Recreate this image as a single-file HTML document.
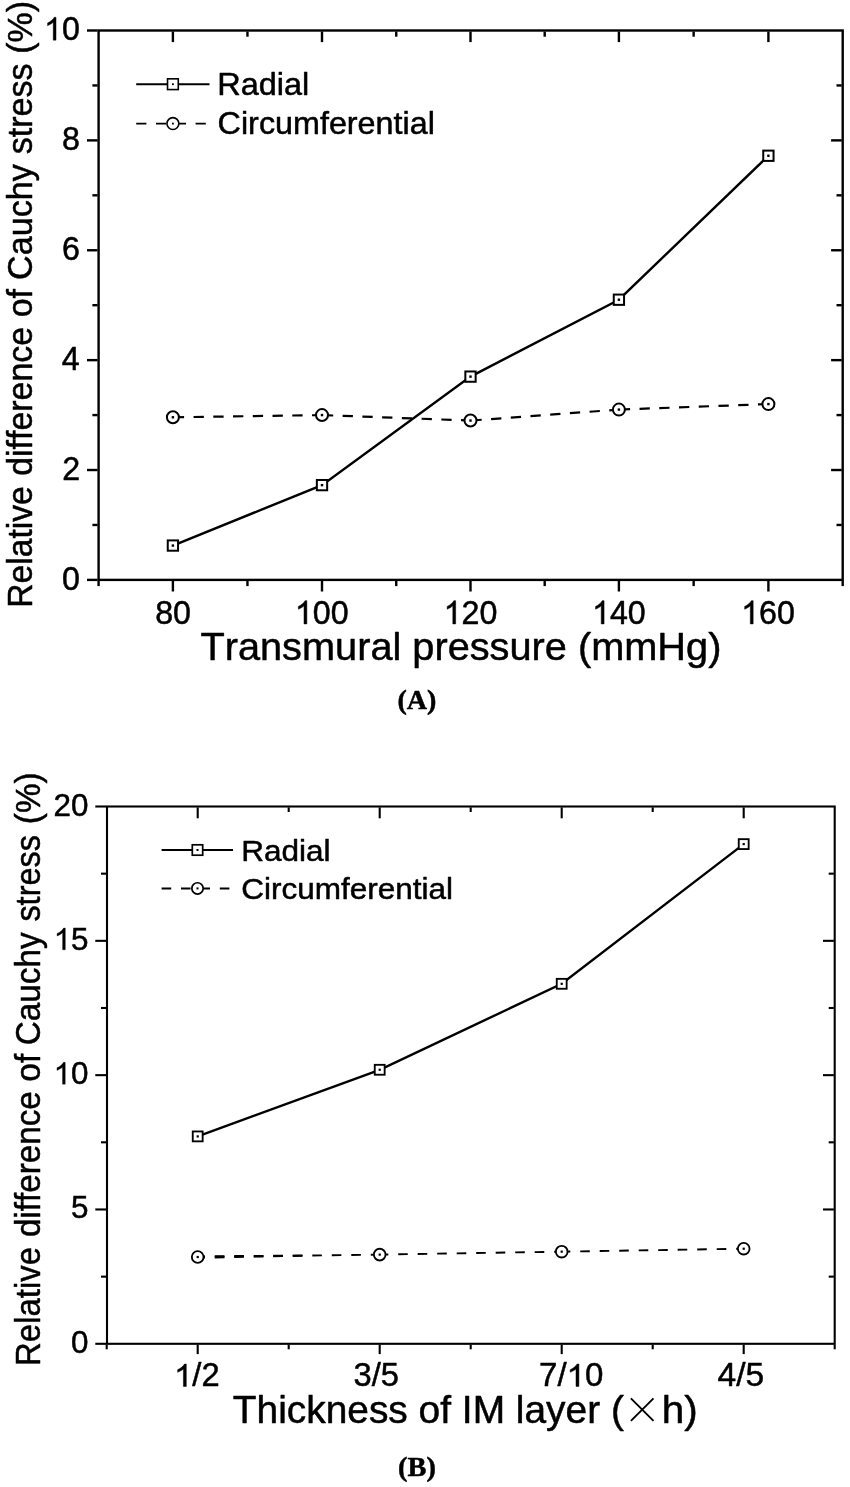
<!DOCTYPE html>
<html><head><meta charset="utf-8"><title>Figure</title>
<style>html,body{margin:0;padding:0;background:#fff}svg{display:block;will-change:transform;filter:blur(0.3px)}text{font-kerning:none;fill:#000;stroke:#000;stroke-width:0.5px;stroke-linejoin:round}</style></head><body>
<svg width="850" height="1487" viewBox="0 0 850 1487">
<rect width="850" height="1487" fill="#fff"/>
<rect x="98.60" y="30.50" width="744.10" height="549.40" fill="none" stroke="#000" stroke-width="2.4"/>
<line x1="98.60" y1="580.90" x2="98.60" y2="586.10" stroke="#000" stroke-width="2.4"/>
<line x1="172.90" y1="580.90" x2="172.90" y2="591.50" stroke="#000" stroke-width="2.4"/>
<line x1="172.90" y1="31.50" x2="172.90" y2="42.10" stroke="#000" stroke-width="2.4"/>
<line x1="247.45" y1="580.90" x2="247.45" y2="586.10" stroke="#000" stroke-width="2.4"/>
<line x1="247.45" y1="31.50" x2="247.45" y2="36.70" stroke="#000" stroke-width="2.4"/>
<line x1="322.00" y1="580.90" x2="322.00" y2="591.50" stroke="#000" stroke-width="2.4"/>
<line x1="322.00" y1="31.50" x2="322.00" y2="42.10" stroke="#000" stroke-width="2.4"/>
<line x1="396.25" y1="580.90" x2="396.25" y2="586.10" stroke="#000" stroke-width="2.4"/>
<line x1="396.25" y1="31.50" x2="396.25" y2="36.70" stroke="#000" stroke-width="2.4"/>
<line x1="470.50" y1="580.90" x2="470.50" y2="591.50" stroke="#000" stroke-width="2.4"/>
<line x1="470.50" y1="31.50" x2="470.50" y2="42.10" stroke="#000" stroke-width="2.4"/>
<line x1="544.70" y1="580.90" x2="544.70" y2="586.10" stroke="#000" stroke-width="2.4"/>
<line x1="544.70" y1="31.50" x2="544.70" y2="36.70" stroke="#000" stroke-width="2.4"/>
<line x1="618.90" y1="580.90" x2="618.90" y2="591.50" stroke="#000" stroke-width="2.4"/>
<line x1="618.90" y1="31.50" x2="618.90" y2="42.10" stroke="#000" stroke-width="2.4"/>
<line x1="693.65" y1="580.90" x2="693.65" y2="586.10" stroke="#000" stroke-width="2.4"/>
<line x1="693.65" y1="31.50" x2="693.65" y2="36.70" stroke="#000" stroke-width="2.4"/>
<line x1="768.40" y1="580.90" x2="768.40" y2="591.50" stroke="#000" stroke-width="2.4"/>
<line x1="768.40" y1="31.50" x2="768.40" y2="42.10" stroke="#000" stroke-width="2.4"/>
<line x1="842.70" y1="580.90" x2="842.70" y2="586.10" stroke="#000" stroke-width="2.4"/>
<line x1="97.60" y1="579.90" x2="87.00" y2="579.90" stroke="#000" stroke-width="2.4"/>
<line x1="97.60" y1="524.96" x2="92.40" y2="524.96" stroke="#000" stroke-width="2.4"/>
<line x1="841.70" y1="524.96" x2="836.50" y2="524.96" stroke="#000" stroke-width="2.4"/>
<line x1="97.60" y1="470.02" x2="87.00" y2="470.02" stroke="#000" stroke-width="2.4"/>
<line x1="841.70" y1="470.02" x2="831.10" y2="470.02" stroke="#000" stroke-width="2.4"/>
<line x1="97.60" y1="415.08" x2="92.40" y2="415.08" stroke="#000" stroke-width="2.4"/>
<line x1="841.70" y1="415.08" x2="836.50" y2="415.08" stroke="#000" stroke-width="2.4"/>
<line x1="97.60" y1="360.14" x2="87.00" y2="360.14" stroke="#000" stroke-width="2.4"/>
<line x1="841.70" y1="360.14" x2="831.10" y2="360.14" stroke="#000" stroke-width="2.4"/>
<line x1="97.60" y1="305.20" x2="92.40" y2="305.20" stroke="#000" stroke-width="2.4"/>
<line x1="841.70" y1="305.20" x2="836.50" y2="305.20" stroke="#000" stroke-width="2.4"/>
<line x1="97.60" y1="250.26" x2="87.00" y2="250.26" stroke="#000" stroke-width="2.4"/>
<line x1="841.70" y1="250.26" x2="831.10" y2="250.26" stroke="#000" stroke-width="2.4"/>
<line x1="97.60" y1="195.32" x2="92.40" y2="195.32" stroke="#000" stroke-width="2.4"/>
<line x1="841.70" y1="195.32" x2="836.50" y2="195.32" stroke="#000" stroke-width="2.4"/>
<line x1="97.60" y1="140.38" x2="87.00" y2="140.38" stroke="#000" stroke-width="2.4"/>
<line x1="841.70" y1="140.38" x2="831.10" y2="140.38" stroke="#000" stroke-width="2.4"/>
<line x1="97.60" y1="85.44" x2="92.40" y2="85.44" stroke="#000" stroke-width="2.4"/>
<line x1="841.70" y1="85.44" x2="836.50" y2="85.44" stroke="#000" stroke-width="2.4"/>
<line x1="97.60" y1="30.50" x2="87.00" y2="30.50" stroke="#000" stroke-width="2.4"/>
<polyline fill="none" stroke="#000" stroke-width="2.4" points="172.90,545.56 322.00,485.13 470.50,376.62 618.90,299.71 768.40,155.76"/>
<line x1="172.90" y1="417.28" x2="322.00" y2="415.08" stroke="#000" stroke-width="2.2" stroke-dasharray="10.3,9.45" stroke-dashoffset="-0.9"/>
<line x1="322.00" y1="415.08" x2="470.50" y2="420.57" stroke="#000" stroke-width="2.2" stroke-dasharray="10.3,9.45" stroke-dashoffset="-0.9"/>
<line x1="470.50" y1="420.57" x2="618.90" y2="409.59" stroke="#000" stroke-width="2.2" stroke-dasharray="10.3,9.45" stroke-dashoffset="-0.9"/>
<line x1="618.90" y1="409.59" x2="768.40" y2="404.09" stroke="#000" stroke-width="2.2" stroke-dasharray="10.3,9.45" stroke-dashoffset="-0.9"/>
<rect x="167.75" y="540.41" width="10.30" height="10.30" fill="#fff" stroke="#000" stroke-width="2.0"/>
<rect x="171.70" y="544.36" width="2.4" height="2.4" fill="#000"/>
<rect x="316.85" y="479.98" width="10.30" height="10.30" fill="#fff" stroke="#000" stroke-width="2.0"/>
<rect x="320.80" y="483.93" width="2.4" height="2.4" fill="#000"/>
<rect x="465.35" y="371.47" width="10.30" height="10.30" fill="#fff" stroke="#000" stroke-width="2.0"/>
<rect x="469.30" y="375.42" width="2.4" height="2.4" fill="#000"/>
<rect x="613.75" y="294.56" width="10.30" height="10.30" fill="#fff" stroke="#000" stroke-width="2.0"/>
<rect x="617.70" y="298.51" width="2.4" height="2.4" fill="#000"/>
<rect x="763.25" y="150.61" width="10.30" height="10.30" fill="#fff" stroke="#000" stroke-width="2.0"/>
<rect x="767.20" y="154.56" width="2.4" height="2.4" fill="#000"/>
<circle cx="172.90" cy="417.28" r="6.00" fill="#fff" stroke="#000" stroke-width="2.0"/>
<rect x="171.70" y="416.08" width="2.4" height="2.4" fill="#000"/>
<circle cx="322.00" cy="415.08" r="6.00" fill="#fff" stroke="#000" stroke-width="2.0"/>
<rect x="320.80" y="413.88" width="2.4" height="2.4" fill="#000"/>
<circle cx="470.50" cy="420.57" r="6.00" fill="#fff" stroke="#000" stroke-width="2.0"/>
<rect x="469.30" y="419.37" width="2.4" height="2.4" fill="#000"/>
<circle cx="618.90" cy="409.59" r="6.00" fill="#fff" stroke="#000" stroke-width="2.0"/>
<rect x="617.70" y="408.39" width="2.4" height="2.4" fill="#000"/>
<circle cx="768.40" cy="404.09" r="6.00" fill="#fff" stroke="#000" stroke-width="2.0"/>
<rect x="767.20" y="402.89" width="2.4" height="2.4" fill="#000"/>
<line x1="136.20" y1="84.20" x2="209.50" y2="84.20" stroke="#000" stroke-width="1.9"/>
<rect x="167.53" y="78.83" width="10.75" height="10.75" fill="#fff" stroke="#000" stroke-width="1.6"/>
<rect x="172.00" y="83.30" width="1.8" height="1.8" fill="#000"/>
<line x1="136.20" y1="123.60" x2="209.50" y2="123.60" stroke="#000" stroke-width="1.9" stroke-dasharray="10.2,9.6"/>
<circle cx="172.90" cy="123.60" r="5.95" fill="#fff" stroke="#000" stroke-width="1.6"/>
<rect x="172.00" y="122.70" width="1.8" height="1.8" fill="#000"/>
<rect x="107.00" y="806.50" width="727.70" height="537.30" fill="none" stroke="#000" stroke-width="2.1"/>
<line x1="106.70" y1="1344.65" x2="106.70" y2="1349.30" stroke="#000" stroke-width="2.1"/>
<line x1="197.70" y1="1344.65" x2="197.70" y2="1354.10" stroke="#000" stroke-width="2.1"/>
<line x1="197.70" y1="807.35" x2="197.70" y2="818.30" stroke="#000" stroke-width="2.1"/>
<line x1="288.70" y1="1344.65" x2="288.70" y2="1349.30" stroke="#000" stroke-width="2.1"/>
<line x1="288.70" y1="807.35" x2="288.70" y2="812.00" stroke="#000" stroke-width="2.1"/>
<line x1="379.70" y1="1344.65" x2="379.70" y2="1354.10" stroke="#000" stroke-width="2.1"/>
<line x1="379.70" y1="807.35" x2="379.70" y2="818.30" stroke="#000" stroke-width="2.1"/>
<line x1="470.70" y1="1344.65" x2="470.70" y2="1349.30" stroke="#000" stroke-width="2.1"/>
<line x1="470.70" y1="807.35" x2="470.70" y2="812.00" stroke="#000" stroke-width="2.1"/>
<line x1="561.70" y1="1344.65" x2="561.70" y2="1354.10" stroke="#000" stroke-width="2.1"/>
<line x1="561.70" y1="807.35" x2="561.70" y2="818.30" stroke="#000" stroke-width="2.1"/>
<line x1="652.70" y1="1344.65" x2="652.70" y2="1349.30" stroke="#000" stroke-width="2.1"/>
<line x1="652.70" y1="807.35" x2="652.70" y2="812.00" stroke="#000" stroke-width="2.1"/>
<line x1="743.70" y1="1344.65" x2="743.70" y2="1354.10" stroke="#000" stroke-width="2.1"/>
<line x1="743.70" y1="807.35" x2="743.70" y2="818.30" stroke="#000" stroke-width="2.1"/>
<line x1="834.70" y1="1344.65" x2="834.70" y2="1349.30" stroke="#000" stroke-width="2.1"/>
<line x1="106.15" y1="1343.80" x2="95.30" y2="1343.80" stroke="#000" stroke-width="2.1"/>
<line x1="106.15" y1="1276.64" x2="101.00" y2="1276.64" stroke="#000" stroke-width="2.1"/>
<line x1="833.85" y1="1276.64" x2="828.70" y2="1276.64" stroke="#000" stroke-width="2.1"/>
<line x1="106.15" y1="1209.47" x2="95.30" y2="1209.47" stroke="#000" stroke-width="2.1"/>
<line x1="833.85" y1="1209.47" x2="823.00" y2="1209.47" stroke="#000" stroke-width="2.1"/>
<line x1="106.15" y1="1142.31" x2="101.00" y2="1142.31" stroke="#000" stroke-width="2.1"/>
<line x1="833.85" y1="1142.31" x2="828.70" y2="1142.31" stroke="#000" stroke-width="2.1"/>
<line x1="106.15" y1="1075.15" x2="95.30" y2="1075.15" stroke="#000" stroke-width="2.1"/>
<line x1="833.85" y1="1075.15" x2="823.00" y2="1075.15" stroke="#000" stroke-width="2.1"/>
<line x1="106.15" y1="1007.99" x2="101.00" y2="1007.99" stroke="#000" stroke-width="2.1"/>
<line x1="833.85" y1="1007.99" x2="828.70" y2="1007.99" stroke="#000" stroke-width="2.1"/>
<line x1="106.15" y1="940.83" x2="95.30" y2="940.83" stroke="#000" stroke-width="2.1"/>
<line x1="833.85" y1="940.83" x2="823.00" y2="940.83" stroke="#000" stroke-width="2.1"/>
<line x1="106.15" y1="873.66" x2="101.00" y2="873.66" stroke="#000" stroke-width="2.1"/>
<line x1="833.85" y1="873.66" x2="828.70" y2="873.66" stroke="#000" stroke-width="2.1"/>
<line x1="106.15" y1="806.50" x2="95.30" y2="806.50" stroke="#000" stroke-width="2.1"/>
<polyline fill="none" stroke="#000" stroke-width="2.4" points="197.70,1136.40 379.70,1069.78 561.70,983.81 743.70,844.11"/>
<line x1="197.70" y1="1257.03" x2="379.70" y2="1254.61" stroke="#000" stroke-width="1.9" stroke-dasharray="9.6,9.9" stroke-dashoffset="2.4"/>
<line x1="379.70" y1="1254.61" x2="561.70" y2="1251.65" stroke="#000" stroke-width="1.9" stroke-dasharray="9.6,9.9" stroke-dashoffset="1.0"/>
<line x1="561.70" y1="1251.65" x2="743.70" y2="1248.70" stroke="#000" stroke-width="1.9" stroke-dasharray="9.6,9.9" stroke-dashoffset="1.0"/>
<line x1="197.70" y1="1257.78" x2="305.70" y2="1255.59" stroke="#000" stroke-width="1.9" stroke-dasharray="9.6,9.9" stroke-dashoffset="2.4"/>
<line x1="197.70" y1="1256.28" x2="305.70" y2="1255.59" stroke="#000" stroke-width="1.9" stroke-dasharray="9.6,9.9" stroke-dashoffset="2.4"/>
<rect x="192.75" y="1131.45" width="9.90" height="9.90" fill="#fff" stroke="#000" stroke-width="1.85"/>
<rect x="196.60" y="1135.30" width="2.2" height="2.2" fill="#000"/>
<rect x="374.75" y="1064.83" width="9.90" height="9.90" fill="#fff" stroke="#000" stroke-width="1.85"/>
<rect x="378.60" y="1068.68" width="2.2" height="2.2" fill="#000"/>
<rect x="556.75" y="978.86" width="9.90" height="9.90" fill="#fff" stroke="#000" stroke-width="1.85"/>
<rect x="560.60" y="982.71" width="2.2" height="2.2" fill="#000"/>
<rect x="738.75" y="839.16" width="9.90" height="9.90" fill="#fff" stroke="#000" stroke-width="1.85"/>
<rect x="742.60" y="843.01" width="2.2" height="2.2" fill="#000"/>
<circle cx="197.70" cy="1257.03" r="5.85" fill="#fff" stroke="#000" stroke-width="1.85"/>
<rect x="196.60" y="1255.93" width="2.2" height="2.2" fill="#000"/>
<circle cx="379.70" cy="1254.61" r="5.85" fill="#fff" stroke="#000" stroke-width="1.85"/>
<rect x="378.60" y="1253.51" width="2.2" height="2.2" fill="#000"/>
<circle cx="561.70" cy="1251.65" r="5.85" fill="#fff" stroke="#000" stroke-width="1.85"/>
<rect x="560.60" y="1250.55" width="2.2" height="2.2" fill="#000"/>
<circle cx="743.70" cy="1248.70" r="5.85" fill="#fff" stroke="#000" stroke-width="1.85"/>
<rect x="742.60" y="1247.60" width="2.2" height="2.2" fill="#000"/>
<line x1="161.60" y1="850.00" x2="233.00" y2="850.00" stroke="#000" stroke-width="2.0"/>
<rect x="192.30" y="844.80" width="10.40" height="10.40" fill="#fff" stroke="#000" stroke-width="1.7"/>
<rect x="196.50" y="849.00" width="2.0" height="2.0" fill="#000"/>
<line x1="161.60" y1="888.40" x2="233.00" y2="888.40" stroke="#000" stroke-width="2.0" stroke-dasharray="9.6,9.8"/>
<circle cx="197.50" cy="888.40" r="5.65" fill="#fff" stroke="#000" stroke-width="1.7"/>
<rect x="196.50" y="887.40" width="2.0" height="2.0" fill="#000"/>
<text transform="translate(44.04,40.17) scale(1.0000,1.0350)" font-family='"Liberation Sans", sans-serif' font-size="32.20" stroke-width="0.39"><tspan visibility="hidden">1</tspan>0</text>
<path transform="translate(44.04,40.17) scale(0.01572,-0.01558)" d="M763 0H583V1147Q518 1085 412.5 1023T223 930V1104Q374 1175 487 1276T647 1472H763Z" fill="#000" stroke="#000" stroke-width="25.4" stroke-linejoin="round"/>
<text transform="translate(62.09,150.05) scale(1.0000,1.0350)" font-family='"Liberation Sans", sans-serif' font-size="32.20" stroke-width="0.39">8</text>
<text transform="translate(62.11,259.93) scale(1.0000,1.0350)" font-family='"Liberation Sans", sans-serif' font-size="32.20" stroke-width="0.39">6</text>
<text transform="translate(61.64,369.81) scale(1.0000,1.0350)" font-family='"Liberation Sans", sans-serif' font-size="32.20" stroke-width="0.39">4</text>
<text transform="translate(62.31,479.69) scale(1.0000,1.0350)" font-family='"Liberation Sans", sans-serif' font-size="32.20" stroke-width="0.39">2</text>
<text transform="translate(61.95,589.57) scale(1.0000,1.0350)" font-family='"Liberation Sans", sans-serif' font-size="32.20" stroke-width="0.39">0</text>
<text transform="translate(155.17,623.90) scale(1.0000,1.0500)" font-family='"Liberation Sans", sans-serif' font-size="32.20" stroke-width="0.48">80</text>
<text transform="translate(294.86,623.90) scale(1.0000,1.0500)" font-family='"Liberation Sans", sans-serif' font-size="32.20" stroke-width="0.48"><tspan visibility="hidden">1</tspan>00</text>
<path transform="translate(294.86,623.90) scale(0.01572,-0.01580)" d="M763 0H583V1147Q518 1085 412.5 1023T223 930V1104Q374 1175 487 1276T647 1472H763Z" fill="#000" stroke="#000" stroke-width="31.8" stroke-linejoin="round"/>
<text transform="translate(443.66,623.90) scale(1.0000,1.0500)" font-family='"Liberation Sans", sans-serif' font-size="32.20" stroke-width="0.48"><tspan visibility="hidden">1</tspan>20</text>
<path transform="translate(443.66,623.90) scale(0.01572,-0.01580)" d="M763 0H583V1147Q518 1085 412.5 1023T223 930V1104Q374 1175 487 1276T647 1472H763Z" fill="#000" stroke="#000" stroke-width="31.8" stroke-linejoin="round"/>
<text transform="translate(592.06,623.90) scale(1.0000,1.0500)" font-family='"Liberation Sans", sans-serif' font-size="32.20" stroke-width="0.48"><tspan visibility="hidden">1</tspan>40</text>
<path transform="translate(592.06,623.90) scale(0.01572,-0.01580)" d="M763 0H583V1147Q518 1085 412.5 1023T223 930V1104Q374 1175 487 1276T647 1472H763Z" fill="#000" stroke="#000" stroke-width="31.8" stroke-linejoin="round"/>
<text transform="translate(741.16,623.90) scale(1.0000,1.0500)" font-family='"Liberation Sans", sans-serif' font-size="32.20" stroke-width="0.48"><tspan visibility="hidden">1</tspan>60</text>
<path transform="translate(741.16,623.90) scale(0.01572,-0.01580)" d="M763 0H583V1147Q518 1085 412.5 1023T223 930V1104Q374 1175 487 1276T647 1472H763Z" fill="#000" stroke="#000" stroke-width="31.8" stroke-linejoin="round"/>
<text transform="translate(200.41,660.30) scale(1.0036,1.0000)" font-family='"Liberation Sans", sans-serif' font-size="39.60" stroke-width="0.20">Transmural pressure (mmHg)</text>
<text transform="translate(31.70,607.66) rotate(-90) scale(0.9657,1.0000)" font-family='"Liberation Sans", sans-serif' font-size="34.80" stroke-width="0.20">Relative</text>
<text transform="translate(31.70,475.87) rotate(-90) scale(0.9754,1.0000)" font-family='"Liberation Sans", sans-serif' font-size="34.80" stroke-width="0.20">difference</text>
<text transform="translate(31.70,317.35) rotate(-90) scale(0.9780,1.0000)" font-family='"Liberation Sans", sans-serif' font-size="34.80" stroke-width="0.20">of</text>
<text transform="translate(31.70,279.91) rotate(-90) scale(0.9815,1.0000)" font-family='"Liberation Sans", sans-serif' font-size="34.80" stroke-width="0.20">Cauchy</text>
<text transform="translate(31.70,154.25) rotate(-90) scale(0.9791,1.0000)" font-family='"Liberation Sans", sans-serif' font-size="34.80" stroke-width="0.20">stress</text>
<text transform="translate(31.70,53.72) rotate(-90) scale(0.9760,1.0000)" font-family='"Liberation Sans", sans-serif' font-size="34.80" stroke-width="0.20">(%)</text>
<text transform="translate(217.29,94.70) scale(1.0472,1.0000)" font-family='"Liberation Sans", sans-serif' font-size="31.00" stroke-width="0.48">Radial</text>
<text transform="translate(217.61,134.10) scale(1.0425,1.0000)" font-family='"Liberation Sans", sans-serif' font-size="31.00" stroke-width="0.48">Circumferential</text>
<text transform="translate(397.52,708.80) scale(1.0025,1.0000)" font-family='"Liberation Serif", serif' font-size="28.00" font-weight="bold" stroke-width="0.15">(A)</text>
<text transform="translate(53.55,815.52) scale(1.0000,1.0100)" font-family='"Liberation Sans", sans-serif' font-size="31.40" stroke-width="0.30">20</text>
<text transform="translate(53.64,949.84) scale(1.0000,1.0100)" font-family='"Liberation Sans", sans-serif' font-size="31.40" stroke-width="0.30"><tspan visibility="hidden">1</tspan>5</text>
<path transform="translate(53.64,949.84) scale(0.01533,-0.01482)" d="M763 0H583V1147Q518 1085 412.5 1023T223 930V1104Q374 1175 487 1276T647 1472H763Z" fill="#000" stroke="#000" stroke-width="19.6" stroke-linejoin="round"/>
<text transform="translate(53.55,1084.17) scale(1.0000,1.0100)" font-family='"Liberation Sans", sans-serif' font-size="31.40" stroke-width="0.30"><tspan visibility="hidden">1</tspan>0</text>
<path transform="translate(53.55,1084.17) scale(0.01533,-0.01482)" d="M763 0H583V1147Q518 1085 412.5 1023T223 930V1104Q374 1175 487 1276T647 1472H763Z" fill="#000" stroke="#000" stroke-width="19.6" stroke-linejoin="round"/>
<text transform="translate(71.11,1218.49) scale(1.0000,1.0100)" font-family='"Liberation Sans", sans-serif' font-size="31.40" stroke-width="0.30">5</text>
<text transform="translate(71.01,1352.82) scale(1.0000,1.0100)" font-family='"Liberation Sans", sans-serif' font-size="31.40" stroke-width="0.30">0</text>
<text transform="translate(174.09,1386.40) scale(0.9773,0.9700)" font-family='"Liberation Sans", sans-serif' font-size="33.50" stroke-width="0.51"><tspan visibility="hidden">1</tspan>/2</text>
<path transform="translate(174.09,1386.40) scale(0.01599,-0.01519)" d="M763 0H583V1147Q518 1085 412.5 1023T223 930V1104Q374 1175 487 1276T647 1472H763Z" fill="#000" stroke="#000" stroke-width="31.3" stroke-linejoin="round"/>
<text transform="translate(353.51,1386.40) scale(0.9752,0.9700)" font-family='"Liberation Sans", sans-serif' font-size="33.50" stroke-width="0.51">3/5</text>
<text transform="translate(539.06,1386.40) scale(0.9859,0.9700)" font-family='"Liberation Sans", sans-serif' font-size="33.50" stroke-width="0.51">7/<tspan visibility="hidden">1</tspan>0</text>
<path transform="translate(566.60,1386.40) scale(0.01613,-0.01519)" d="M763 0H583V1147Q518 1085 412.5 1023T223 930V1104Q374 1175 487 1276T647 1472H763Z" fill="#000" stroke="#000" stroke-width="31.0" stroke-linejoin="round"/>
<text transform="translate(717.48,1386.40) scale(1.0024,0.9700)" font-family='"Liberation Sans", sans-serif' font-size="33.50" stroke-width="0.50">4/5</text>
<text transform="translate(232.80,1422.80) scale(1.0234,1.0000)" font-family='"Liberation Sans", sans-serif' font-size="38.00" stroke-width="0.15">Thickness of IM layer (</text>
<text transform="translate(661.67,1422.80) scale(1.0644,1.0000)" font-family='"Liberation Sans", sans-serif' font-size="38.00" stroke-width="0.14">h)</text>
<text x="633" y="1422.8" font-family='"Liberation Sans", sans-serif' font-size="38" visibility="hidden">&#215;</text>
<path d="M630.9,1398.3 L653.5,1420.8 M653.5,1398.3 L630.9,1420.8" stroke="#000" stroke-width="1.9" fill="none"/>
<text transform="translate(40.40,1365.90) rotate(-90) scale(0.9515,1.0000)" font-family='"Liberation Sans", sans-serif' font-size="34.60" stroke-width="0.20">Relative</text>
<text transform="translate(40.40,1237.10) rotate(-90) scale(0.9601,1.0000)" font-family='"Liberation Sans", sans-serif' font-size="34.60" stroke-width="0.20">difference</text>
<text transform="translate(40.40,1081.67) rotate(-90) scale(0.9651,1.0000)" font-family='"Liberation Sans", sans-serif' font-size="34.60" stroke-width="0.20">of</text>
<text transform="translate(40.40,1045.18) rotate(-90) scale(0.9615,1.0000)" font-family='"Liberation Sans", sans-serif' font-size="34.60" stroke-width="0.20">Cauchy</text>
<text transform="translate(40.40,921.62) rotate(-90) scale(0.9393,1.0000)" font-family='"Liberation Sans", sans-serif' font-size="34.60" stroke-width="0.20">stress</text>
<text transform="translate(40.40,824.17) rotate(-90) scale(0.9615,1.0000)" font-family='"Liberation Sans", sans-serif' font-size="34.60" stroke-width="0.20">(%)</text>
<text transform="translate(241.16,860.50) scale(1.0630,1.0000)" font-family='"Liberation Sans", sans-serif' font-size="29.70" stroke-width="0.28">Radial</text>
<text transform="translate(241.15,898.80) scale(1.0606,1.0000)" font-family='"Liberation Sans", sans-serif' font-size="29.70" stroke-width="0.28">Circumferential</text>
<text transform="translate(398.10,1475.80) scale(1.0125,1.0000)" font-family='"Liberation Serif", serif' font-size="28.00" font-weight="bold" stroke-width="0.15">(B)</text>
</svg></body></html>
